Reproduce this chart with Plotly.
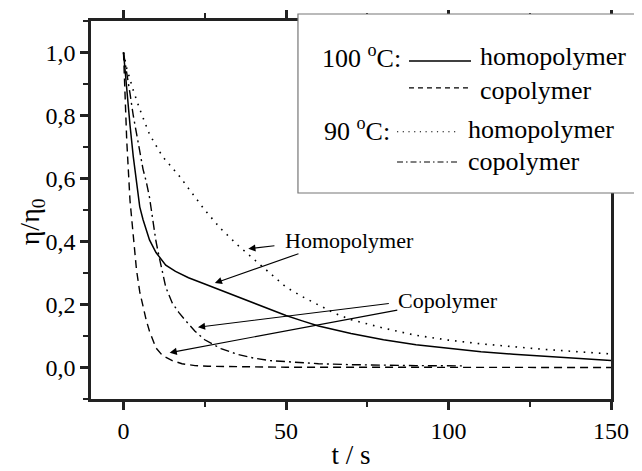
import plotly.graph_objects as go

# ---- data ----
t_homo100 = [0, 1, 2, 3, 4, 5, 6, 7, 8, 10, 13, 16, 20, 25, 30, 35, 40, 45, 50, 55, 60, 70, 80, 90, 100, 110, 120, 130, 140, 150]
y_homo100 = [1.0, 0.87, 0.77, 0.67, 0.58, 0.51, 0.47, 0.44, 0.405, 0.365, 0.325, 0.305, 0.285, 0.265, 0.245, 0.225, 0.205, 0.185, 0.165, 0.148, 0.132, 0.108, 0.088, 0.072, 0.06, 0.05, 0.042, 0.035, 0.028, 0.022]

t_co100 = [0, 0.5, 1, 2, 3, 4, 5, 6, 7, 8, 9, 10, 12, 15, 18, 22, 26, 30, 40, 50, 70, 100, 150]
y_co100 = [1.0, 0.86, 0.72, 0.53, 0.42, 0.31, 0.24, 0.19, 0.15, 0.115, 0.085, 0.062, 0.038, 0.022, 0.012, 0.006, 0.004, 0.003, 0.002, 0.001, 0.001, 0.0, 0.0]

t_homo90 = [0, 1, 3, 5, 8, 12, 17, 20, 25, 30, 35, 40, 45, 50, 55, 60, 65, 70, 80, 90, 100, 110, 120, 130, 140, 150]
y_homo90 = [1.0, 0.95, 0.88, 0.82, 0.74, 0.67, 0.61, 0.57, 0.50, 0.44, 0.39, 0.345, 0.30, 0.255, 0.225, 0.198, 0.172, 0.152, 0.125, 0.102, 0.087, 0.075, 0.065, 0.057, 0.05, 0.043]

t_co90 = [0, 1, 2, 3, 4, 5, 6, 7, 8, 9, 10, 11, 12, 13, 15, 17, 19, 22, 25, 30, 35, 40, 45, 50, 60, 70, 80, 90, 105]
y_co90 = [1.0, 0.94, 0.87, 0.80, 0.74, 0.69, 0.63, 0.59, 0.54, 0.47, 0.40, 0.35, 0.30, 0.255, 0.205, 0.175, 0.15, 0.115, 0.088, 0.06, 0.042, 0.03, 0.022, 0.018, 0.012, 0.009, 0.007, 0.006, 0.005]

x_ticks = [0, 50, 100, 150]
y_ticks = [0.0, 0.2, 0.4, 0.6, 0.8, 1.0]

FONT = "Liberation Serif"

fig = go.Figure()
fig.add_trace(go.Scatter(x=t_homo100, y=y_homo100, mode="lines",
                         line=dict(color="black", width=1.5, dash="solid"), showlegend=False))
fig.add_trace(go.Scatter(x=t_co100, y=y_co100, mode="lines",
                         line=dict(color="black", width=1.4, dash="8px,5px"), showlegend=False))
fig.add_trace(go.Scatter(x=t_homo90, y=y_homo90, mode="lines",
                         line=dict(color="black", width=1.6, dash="1.6px,6px"), showlegend=False))
fig.add_trace(go.Scatter(x=t_co90, y=y_co90, mode="lines",
                         line=dict(color="black", width=1.4, dash="9px,4px,2px,4px"), showlegend=False))

# ---- in-plot labels and arrows ----
ann_font = dict(family=FONT, size=22, color="black")
annotations = [
    dict(x=69.4, y=0.403, xref="x", yref="y", text="Homopolymer", showarrow=False, font=ann_font),
    dict(x=99.7, y=0.213, xref="x", yref="y", text="Copolymer", showarrow=False, font=ann_font),
    # y-axis title
    dict(x=-0.115, y=0.468, xref="paper", yref="paper", text="η/η<sub>0</sub>", textangle=-90,
         showarrow=False, xanchor="center", yanchor="middle",
         font=dict(family=FONT, size=28, color="black")),
]
arrows = [
    (46.9, 0.387, 38.4, 0.377),
    (54.3, 0.363, 28.1, 0.268),
    (82.1, 0.204, 22.9, 0.128),
    (84.7, 0.183, 14.2, 0.047),
]
for ax_, ay_, hx, hy in arrows:
    annotations.append(dict(x=hx, y=hy, ax=ax_, ay=ay_, xref="x", yref="y", axref="x", ayref="y",
                            text="", showarrow=True, arrowhead=2, arrowsize=1.3, arrowwidth=1.1,
                            arrowcolor="black"))

# ---- legend box (custom) ----
leg_font = dict(family=FONT, size=26, color="black")
shapes = [
    dict(type="rect", xref="paper", yref="paper", x0=0.398, x1=1.1, y0=0.545, y1=1.0185,
         line=dict(color="#777777", width=1.2), fillcolor="white", layer="above"),
    dict(type="line", xref="paper", yref="paper", x0=0.6115, x1=0.7308, y0=0.894, y1=0.894,
         line=dict(color="black", width=1.5), layer="above"),
    dict(type="line", xref="paper", yref="paper", x0=0.6115, x1=0.7308, y0=0.823, y1=0.823,
         line=dict(color="black", width=1.2, dash="5px,4px"), layer="above"),
    dict(type="line", xref="paper", yref="paper", x0=0.5885, x1=0.7077, y0=0.707, y1=0.707,
         line=dict(color="black", width=1.2, dash="1.2px,4.5px"), layer="above"),
    dict(type="line", xref="paper", yref="paper", x0=0.5885, x1=0.7077, y0=0.627, y1=0.627,
         line=dict(color="black", width=1.2, dash="6px,3px,1.5px,3px"), layer="above"),
]
# (x, y, text, anchor)
leg_texts = [
    (0.6000, 0.905, "100 <sup>o</sup>C:", "right"),
    (0.744, 0.905, "homopolymer", "left"),
    (0.744, 0.817, "copolymer", "left"),
    (0.5785, 0.714, "90 <sup>o</sup>C:", "right"),
    (0.721, 0.714, "homopolymer", "left"),
    (0.721, 0.627, "copolymer", "left"),
]
for xp, yp, txt, anc in leg_texts:
    annotations.append(dict(x=xp, y=yp, xref="paper", yref="paper", xanchor=anc, yanchor="middle",
                            text=txt, showarrow=False, font=leg_font))

axis_common = dict(showgrid=False, zeroline=False, showline=True, linecolor="#222222", linewidth=2.5,
                   ticks="outside", ticklen=8, tickwidth=2.5, tickcolor="#222222", automargin=False,
                   tickfont=dict(family=FONT, size=24, color="black"))

fig.update_layout(
    width=642, height=471,
    margin=dict(l=83, r=39, t=13, b=80),
    paper_bgcolor="white", plot_bgcolor="white",
    font=dict(family=FONT),
    separators=", ",
    shapes=shapes, annotations=annotations,
    xaxis=dict(range=[-10, 150], tickvals=x_ticks, ticktext=[str(v) for v in x_ticks], mirror="ticks",
               minor=dict(dtick=25, tick0=0, ticks="outside", ticklen=5, tickwidth=2, tickcolor="#222222"),
               title=dict(text="t / s", font=dict(family=FONT, size=27, color="black"), standoff=3),
               **axis_common),
    yaxis=dict(range=[-0.1, 1.1], tickvals=y_ticks, tickformat=".1f", mirror=True,
               minor=dict(dtick=0.1, tick0=0, ticks="outside", ticklen=5, tickwidth=2, tickcolor="#222222"),
               **axis_common),
)

fig.write_html("out.html")
